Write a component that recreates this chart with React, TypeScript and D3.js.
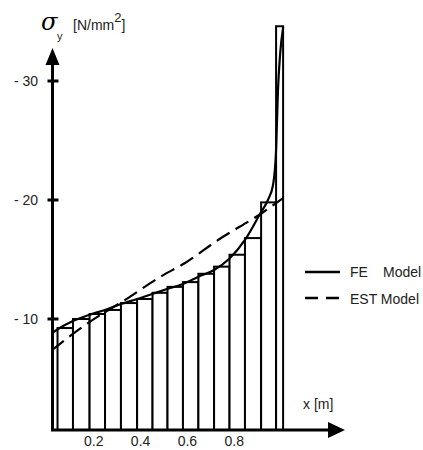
import React from 'react';
import * as d3 from 'd3';

// element edges along the beam [m] and mean stress per element [N/mm2]
const barEdges = [0.045, 0.111, 0.182, 0.248, 0.316, 0.385, 0.451, 0.515, 0.581, 0.647, 0.714, 0.780, 0.846, 0.915, 0.979, 1.009];
const barValues = [9.24, 10.0, 10.42, 10.76, 11.34, 11.68, 12.2, 12.7, 13.1, 13.8, 14.4, 15.4, 16.8, 19.8, 34.6];

// FE model curve
const feX = [0.021, 0.047, 0.111, 0.179, 0.248, 0.316, 0.385, 0.449, 0.513, 0.581, 0.645, 0.714, 0.778, 0.846, 0.910, 0.944, 0.966, 0.979, 0.987, 0.996, 1.009];
const feY = [8.82, 9.16, 9.83, 10.34, 10.76, 11.26, 11.68, 12.10, 12.52, 12.94, 13.53, 14.12, 15.04, 16.64, 18.82, 20.0, 21.26, 24.2, 29.2, 32.2, 34.5];

// EST model curve
const estX = [0.021, 0.175, 0.346, 0.483, 0.590, 0.731, 0.919, 1.009];
const estY = [7.39, 9.66, 11.76, 13.53, 14.71, 16.64, 18.91, 20.17];

const yTicks = [10, 20, 30];
const xTicks = [0.2, 0.4, 0.6, 0.8];

const font = '"Liberation Sans", Arial, sans-serif';

export default function App() {
  const width = 423, height = 450;
  const axisX = 52.5, axisY = 430;

  const x = d3.scaleLinear().domain([0, 1]).range([47, 281]);
  const y = d3.scaleLinear().domain([10, 30]).range([319, 81]);

  const fe = d3.line<number>()
    .x((_, i) => x(feX[i]))
    .y(d => y(d))
    .curve(d3.curveMonotoneX);
  const est = d3.line<number>()
    .x((_, i) => x(estX[i]))
    .y(d => y(d))
    .curve(d3.curveMonotoneX);

  return (
    <svg width={width} height={height}
      style={{ position: 'absolute', left: 0, top: 0, background: '#fff' }}
      fontFamily={font}>
      {/* bars */}
      {barValues.map((v, i) => (
        <rect key={i}
          x={x(barEdges[i])} y={y(v)}
          width={x(barEdges[i + 1]) - x(barEdges[i])}
          height={axisY - y(v)}
          fill="#fff" stroke="#000" strokeWidth={2} />
      ))}

      {/* curves */}
      <path d={est(estY) || ''} fill="none" stroke="#000" strokeWidth={2.2} strokeDasharray="15 7" />
      <path d={fe(feY) || ''} fill="none" stroke="#000" strokeWidth={2.2} />

      {/* y axis */}
      <line x1={axisX} x2={axisX} y1={axisY + 1} y2={62} stroke="#000" strokeWidth={3} />
      <path d={`M${axisX},48 L${axisX - 7},65 L${axisX + 7},65 Z`} fill="#000" />
      {yTicks.map(t => (
        <g key={t}>
          <line x1={axisX - 5} x2={axisX + 6} y1={y(t)} y2={y(t)} stroke="#000" strokeWidth={3} />
          <text x={38} y={y(t) + 5} textAnchor="end" fontSize={14} fill="#222">{`- ${t}`}</text>
        </g>
      ))}

      {/* x axis */}
      <line x1={axisX - 1.5} x2={332} y1={axisY} y2={axisY} stroke="#000" strokeWidth={3} />
      <path d={`M345,${axisY} L328,${axisY - 8} L328,${axisY + 8} Z`} fill="#000" />
      {xTicks.map(t => (
        <text key={t} x={x(t)} y={446} textAnchor="middle" fontSize={14} fill="#222">{t.toFixed(1)}</text>
      ))}
      <text x={303} y={409} fontSize={14} fill="#222">x [m]</text>

      {/* y label */}
      <text x={41} y={30} fontSize={24} fontStyle="italic" fontFamily='"DejaVu Serif", serif' fill="#000">σ</text>
      <text x={57} y={40} fontSize={11} fill="#222">y</text>
      <text x={73} y={30} fontSize={14} fill="#222">[N/mm<tspan dy={-8} fontSize={13}>2</tspan><tspan dy={8}>]</tspan></text>

      {/* legend */}
      <line x1={305} x2={340} y1={272} y2={272} stroke="#000" strokeWidth={2.5} />
      <text x={350} y={277} fontSize={14} fill="#222">FE</text>
      <text x={383} y={277} fontSize={14} fill="#222">Model</text>
      <line x1={305} x2={340} y1={298} y2={298} stroke="#000" strokeWidth={2.5} strokeDasharray="13 8" />
      <text x={350} y={304} fontSize={14} fill="#222">EST Model</text>
    </svg>
  );
}
